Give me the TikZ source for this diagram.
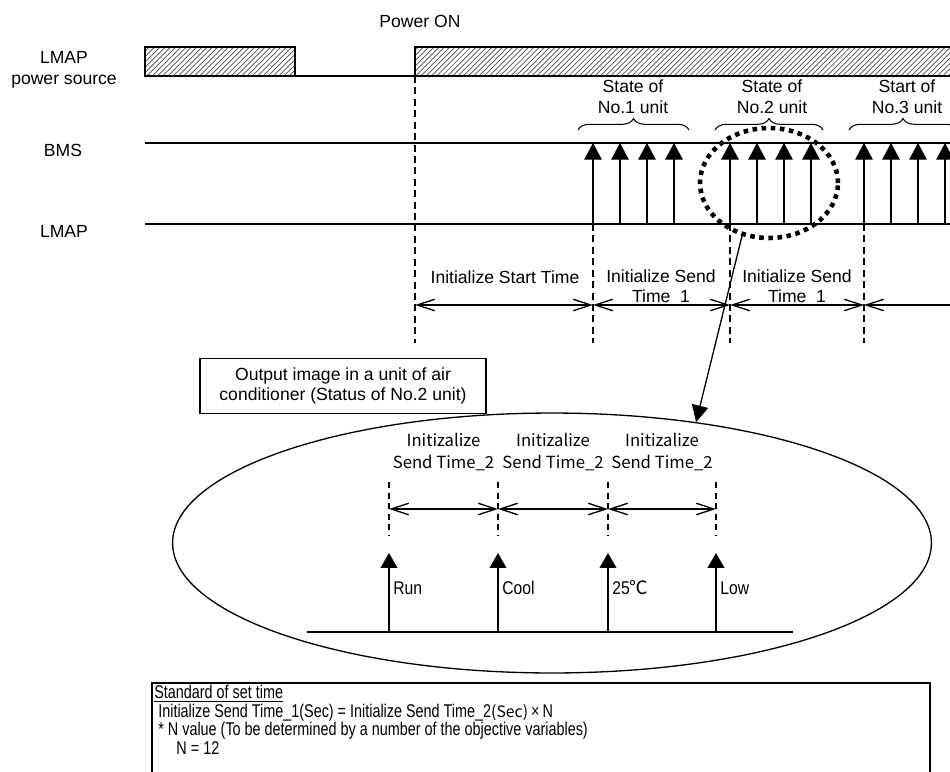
\documentclass[tikz,border=0pt]{standalone}
\usepackage{fontspec}
\setmainfont{Liberation Sans}
\newfontfamily\narrowfont[FakeStretch=0.85]{Liberation Sans}
\newfontfamily\condfont[FakeStretch=0.78]{Liberation Sans}
\newfontfamily\jpfont{Noto Sans CJK JP}
\usepackage{tikz}
\usetikzlibrary{arrows.meta, patterns, shapes.geometric, decorations.pathreplacing, calc}
\tikzset{
  sig/.style={line width=0.75pt},
  hatchbar/.style={draw=black, line width=0.9pt, pattern=north east lines, pattern color=black!70},
  guide/.style={line width=0.6pt, dash pattern=on 4pt off 2.5pt},
  guidesm/.style={line width=1.1pt, dash pattern=on 3.6pt off 2.4pt},
  push/.style={line width=0.75pt, -{Triangle[length=9.5pt, width=10pt]}},
  pushsm/.style={line width=0.75pt, -{Triangle[length=8.5pt, width=9.5pt]}},
  span/.style={line width=0.75pt, {Straight Barb[length=10pt, width=6.5pt]}-{Straight Barb[length=10pt, width=6.5pt]}},
  spanopen/.style={line width=0.75pt, {Straight Barb[length=10pt, width=6.5pt]}-},
  unitbrace/.style={decorate, decoration={brace, amplitude=6.5pt}, line width=0.6pt},
  lbl/.style={font=\fontsize{10}{11.8}\selectfont, align=center, inner sep=0pt},
  jplbl/.style={font=\jpfont\fontsize{9.5}{13}\selectfont, align=center, inner sep=0pt},
  narrowlbl/.style={font=\narrowfont\fontsize{10.5}{12}\selectfont, inner sep=0pt},
  stdtxt/.style={font=\condfont\fontsize{10.5}{8.9}\selectfont, align=left, inner sep=0pt},
  ring/.style={ellipse, draw, inner sep=0pt, minimum width=2.76cm, minimum height=2.2cm, line width=2.6pt, dash pattern=on 2.6pt off 2.6pt},
  callout/.style={line width=0.75pt, -{Triangle[length=9.5pt, width=9.5pt]}},
}
\newcommand{\sendunit}[2]{%
  \foreach \k in {0,...,3}
    \draw[push] ({#1+27*\k},224) coordinate (#2\k) -- ({#1+27*\k},143);}

\begin{document}
\begin{tikzpicture}[x=0.02cm, y=-0.02cm]
  \useasboundingbox (0,0) rectangle (950,771);
  \clip (0,0) rectangle (950,771);
  \node[lbl] (pwron) at (420,21) {Power ON};
  \node[lbl] (srclbl) at (64,70) {LMAP\\power source};
  \node[lbl] (bmslbl) at (63,150) {BMS};
  \node[lbl] (lmaplbl) at (64,231) {LMAP};
  \draw[hatchbar] (145,47) rectangle (295,76);
  \draw[sig] (295,76) -- (415,76);
  \draw[hatchbar] (415,47) rectangle (970,76);
  \coordinate (bmsL) at (145,143);
  \coordinate (bmsR) at (960,143);
  \coordinate (lmapL) at (145,224);
  \coordinate (lmapR) at (960,224);
  \draw[sig] (bmsL) -- (bmsR);
  \draw[sig] (lmapL) -- (lmapR);
  \sendunit{593}{ua}
  \sendunit{730}{ub}
  \sendunit{864}{uc}
  \draw[unitbrace] (578,130) -- (689,130);
  \draw[unitbrace] (715,130) -- (823,130);
  \draw[unitbrace] (849,130) -- (957,130);
  \node[lbl] (sta) at (633,97) {State of\\No.1 unit};
  \node[lbl] (stb) at (772,97) {State of\\No.2 unit};
  \node[lbl] (stc) at (907,97) {Start of\\No.3 unit};
  \draw[guide] (415,76) -- (415,343);
  \draw[guide] (ua0) -- ++(0,119);
  \draw[guide] (ub0) -- ++(0,119);
  \draw[guide] (uc0) -- ++(0,119);
  \coordinate (ta) at (415,305);
  \coordinate (tb) at (593,305);
  \coordinate (tc) at (730,305);
  \coordinate (td) at (864,305);
  \coordinate (te) at (960,305);
  \draw[span] (ta) -- (tb);
  \draw[span] (tb) -- (tc);
  \draw[span] (tc) -- (td);
  \draw[spanopen] (td) -- (te);
  \node[lbl] (ist) at (505,277) {Initialize Start Time};
  \node[lbl] (isa) at (661,288) {Initialize Send\\Time\_1};
  \node[lbl] (isb) at (797,288) {Initialize Send\\Time\_1};
  \node[ring] (ring) at (769,183) {};
  \node[ellipse, draw, line width=0.75pt, minimum width=15.18cm, minimum height=5.2cm, inner sep=0pt] (zoomview) at (552,543) {};
  \node[draw, lbl, fill=white, line width=0.75pt, minimum width=5.72cm, minimum height=1.1cm] (note) at (343,386) {Output image in a unit of air\\conditioner (Status of No.2 unit)};
  \draw[callout] (ring.243) -- (zoomview.40);
  \coordinate (baseL) at (307,632);
  \coordinate (baseR) at (793,632);
  \draw[sig] (baseL) -- (baseR);
  \foreach \x/\nm/\txt in {389/run/Run, 498/cool/Cool, 608/temp/{25{\jpfont ℃}}, 716/fan/Low}{
    \draw[pushsm] (\x,632) coordinate (\nm) -- (\x,553);
    \node[narrowlbl, anchor=west] (\nm-txt) at (\x+4,588) {\txt};
    \draw[guidesm] (\x,482) coordinate (\nm-top) -- (\x,535);
  }
  \coordinate (sa) at (389,509);
  \coordinate (sb) at (498,509);
  \coordinate (sc) at (608,509);
  \coordinate (sd) at (716,509);
  \draw[span] (sa) -- (sb);
  \draw[span] (sb) -- (sc);
  \draw[span] (sc) -- (sd);
  \node[jplbl] (ia) at (443.5,452) {Initizalize\\Send Time\_2};
  \node[jplbl] (ib) at (553,452) {Initizalize\\Send Time\_2};
  \node[jplbl] (ic) at (662,452) {Initizalize\\Send Time\_2};
  \draw[sig] (152,790) -- (152,683) -- (930,683) -- (930,790);
  \node[stdtxt, anchor=north west] (std) at (154,684.5) {\underline{Standard of set time}\\
    \ Initialize Send Time\_1(Sec) = Initialize Send Time\_2{\jpfont\fontsize{9}{9}\selectfont (Sec)}\,×\,N\\
    \ * N value (To be determined by a number of the objective variables)\\
    \hspace{1.2em}N = 12};
\end{tikzpicture}
\end{document}
